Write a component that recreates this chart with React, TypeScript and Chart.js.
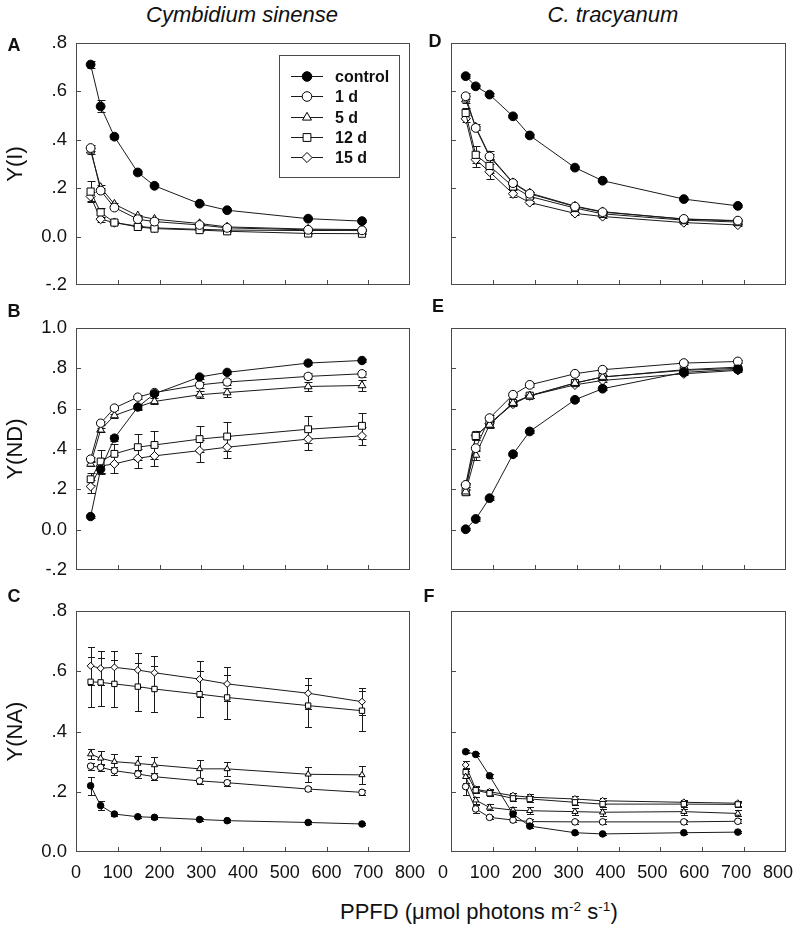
import React, { useEffect, useRef } from 'react';
import { Chart, registerables } from 'chart.js';

Chart.register(...registerables);

const FONT = '"Liberation Sans", Arial, Helvetica, sans-serif';
const INK = '#1a1a1a';

// ---------------- data ----------------
const ppfd = [35, 59, 92, 148, 188, 296, 362, 556, 685];
const seriesLabels = ['control', '1 d', '5 d', '12 d', '15 d'];
const xTickValues = [0, 100, 200, 300, 400, 500, 600, 700, 800];

// A  Cymbidium sinense  Y(I)
const aControl = [0.711, 0.538, 0.413, 0.265, 0.21, 0.136, 0.109, 0.074, 0.064];
const a1d = [0.366, 0.19, 0.12, 0.072, 0.062, 0.048, 0.036, 0.028, 0.026];
const a5d = [0.355, 0.203, 0.134, 0.086, 0.072, 0.054, 0.04, 0.031, 0.029];
const a12d = [0.186, 0.1, 0.058, 0.04, 0.033, 0.027, 0.022, 0.013, 0.012];
const a15d = [0.166, 0.072, 0.058, 0.043, 0.036, 0.03, 0.027, 0.025, 0.026];
const aControlSe = [0.015, 0.025, 0.008, 0.006, 0.005, 0.004, 0.004, 0.003, 0.003];
const a1dSe = [0.012, 0.01, 0.006, 0.004, 0.003, 0.003, 0.003, 0.002, 0.002];
const a5dSe = [0.012, 0.012, 0.006, 0.005, 0.004, 0.003, 0.003, 0.002, 0.002];
const a12dSe = [0.042, 0.02, 0.006, 0.004, 0.003, 0.003, 0.002, 0.002, 0.002];
const a15dSe = [0.02, 0.01, 0.005, 0.004, 0.003, 0.003, 0.002, 0.002, 0.002];

// B  Cymbidium sinense  Y(ND)
const bControl = [0.065, 0.3, 0.454, 0.608, 0.674, 0.757, 0.78, 0.826, 0.839];
const b1d = [0.35, 0.528, 0.603, 0.657, 0.68, 0.718, 0.732, 0.76, 0.773];
const b5d = [0.326, 0.495, 0.566, 0.608, 0.636, 0.669, 0.68, 0.71, 0.715];
const b12d = [0.25, 0.338, 0.376, 0.409, 0.42, 0.449, 0.462, 0.498, 0.515];
const b15d = [0.214, 0.316, 0.326, 0.354, 0.366, 0.392, 0.409, 0.449, 0.465];
const bControlSe = [0.005, 0.02, 0.015, 0.01, 0.008, 0.008, 0.008, 0.007, 0.007];
const b1dSe = [0.01, 0.01, 0.01, 0.01, 0.01, 0.015, 0.015, 0.015, 0.015];
const b5dSe = [0.01, 0.01, 0.01, 0.015, 0.015, 0.018, 0.02, 0.022, 0.025];
const b12dSe = [0.03, 0.055, 0.05, 0.066, 0.07, 0.066, 0.07, 0.067, 0.063];
const b15dSe = [0.03, 0.04, 0.046, 0.046, 0.048, 0.054, 0.055, 0.053, 0.045];

// C  Cymbidium sinense  Y(NA)
const cControl = [0.22, 0.154, 0.126, 0.117, 0.115, 0.108, 0.104, 0.098, 0.093];
const c1d = [0.285, 0.281, 0.27, 0.259, 0.25, 0.236, 0.23, 0.209, 0.198];
const c5d = [0.325, 0.311, 0.3, 0.294, 0.289, 0.276, 0.276, 0.258, 0.256];
const c12d = [0.565, 0.563, 0.558, 0.549, 0.541, 0.524, 0.513, 0.486, 0.469];
const c15d = [0.618, 0.61, 0.613, 0.604, 0.595, 0.574, 0.558, 0.527, 0.499];
const cControlSe = [0.03, 0.015, 0.005, 0.004, 0.004, 0.004, 0.004, 0.004, 0.004];
const c1dSe = [0.012, 0.012, 0.013, 0.012, 0.012, 0.01, 0.01, 0.008, 0.008];
const c5dSe = [0.017, 0.023, 0.026, 0.024, 0.027, 0.029, 0.024, 0.025, 0.029];
const c12dSe = [0.083, 0.08, 0.078, 0.08, 0.076, 0.077, 0.073, 0.07, 0.066];
const c15dSe = [0.062, 0.056, 0.054, 0.056, 0.055, 0.059, 0.057, 0.051, 0.044];

// D  C. tracyanum  Y(I)
const dControl = [0.663, 0.621, 0.587, 0.497, 0.418, 0.285, 0.231, 0.155, 0.127];
const d1d = [0.58, 0.449, 0.331, 0.221, 0.177, 0.124, 0.101, 0.073, 0.066];
const d5d = [0.566, 0.453, 0.335, 0.223, 0.18, 0.126, 0.103, 0.072, 0.065];
const d12d = [0.511, 0.338, 0.292, 0.207, 0.166, 0.118, 0.094, 0.068, 0.06];
const d15d = [0.487, 0.318, 0.268, 0.177, 0.141, 0.096, 0.083, 0.058, 0.048];
const dControlSe = [0.008, 0.006, 0.006, 0.005, 0.005, 0.004, 0.004, 0.004, 0.004];
const d1dSe = [0.012, 0.01, 0.012, 0.008, 0.006, 0.005, 0.004, 0.003, 0.003];
const d5dSe = [0.015, 0.012, 0.02, 0.008, 0.006, 0.005, 0.004, 0.003, 0.003];
const d12dSe = [0.02, 0.035, 0.03, 0.012, 0.008, 0.006, 0.005, 0.004, 0.003];
const d15dSe = [0.015, 0.03, 0.03, 0.015, 0.008, 0.006, 0.005, 0.004, 0.003];

// E  C. tracyanum  Y(ND)
const eControl = [0.002, 0.053, 0.156, 0.374, 0.487, 0.644, 0.699, 0.78, 0.795];
const e1d = [0.222, 0.404, 0.553, 0.669, 0.718, 0.773, 0.793, 0.826, 0.834];
const e5d = [0.189, 0.371, 0.52, 0.628, 0.664, 0.727, 0.757, 0.793, 0.806];
const e12d = [0.186, 0.465, 0.525, 0.628, 0.664, 0.727, 0.757, 0.79, 0.8];
const e15d = [0.222, 0.467, 0.525, 0.623, 0.664, 0.718, 0.74, 0.773, 0.79];
const eControlSe = [0.005, 0.008, 0.01, 0.01, 0.008, 0.008, 0.008, 0.006, 0.006];
const e1dSe = [0.01, 0.015, 0.015, 0.01, 0.01, 0.008, 0.008, 0.008, 0.008];
const e5dSe = [0.01, 0.025, 0.015, 0.01, 0.01, 0.008, 0.008, 0.008, 0.008];
const e12dSe = [0.015, 0.02, 0.015, 0.01, 0.01, 0.008, 0.008, 0.008, 0.008];
const e15dSe = [0.01, 0.02, 0.015, 0.01, 0.01, 0.008, 0.008, 0.008, 0.008];

// F  C. tracyanum  Y(NA)
const fControl = [0.333, 0.324, 0.253, 0.126, 0.086, 0.064, 0.06, 0.064, 0.066];
const f1d = [0.217, 0.143, 0.115, 0.106, 0.101, 0.1, 0.1, 0.1, 0.102];
const f5d = [0.25, 0.172, 0.148, 0.139, 0.137, 0.134, 0.132, 0.134, 0.128];
const f12d = [0.265, 0.205, 0.195, 0.178, 0.176, 0.165, 0.159, 0.159, 0.158];
const f15d = [0.289, 0.208, 0.2, 0.187, 0.182, 0.176, 0.17, 0.165, 0.162];
const fControlSe = [0.004, 0.005, 0.006, 0.006, 0.005, 0.004, 0.004, 0.004, 0.004];
const f1dSe = [0.028, 0.012, 0.005, 0.005, 0.008, 0.006, 0.008, 0.006, 0.006];
const f5dSe = [0.02, 0.012, 0.01, 0.01, 0.012, 0.012, 0.012, 0.01, 0.01];
const f12dSe = [0.015, 0.01, 0.01, 0.01, 0.01, 0.01, 0.01, 0.01, 0.008];
const f15dSe = [0.012, 0.01, 0.01, 0.01, 0.01, 0.01, 0.01, 0.008, 0.008];

// ---------------- styling ----------------
const pointStyles = ['circle', 'circle', 'triangle', 'rect', 'rectRot'];
const pointFills = ['#000000', '#ffffff', '#ffffff', '#ffffff', '#ffffff'];
const radiusMult = [1.0, 1.0, 1.08, 1.15, 1.05];

type PanelDef = {
  key: string;
  series: number[][];
  errors: number[][];
  ymin: number;
  ymax: number;
  ytitle?: string;
  showY: boolean;
  showX: boolean;
  xLabelOffset: number;
  r: number;
  legend?: boolean;
  left: number;
  top: number;
  w: number;
  h: number;
  yAxisW: number;
  xAxisH: number;
  padTop: number;
  padRight: number;
};

function fmtY(v: number) {
  const r = Math.round(v * 10) / 10;
  if (r === 0) return '0.0';
  if (Math.abs(r) >= 1) return r.toFixed(1);
  return (r < 0 ? '-' : '') + Math.abs(r).toFixed(1).slice(1);
}

function drawMarker(ctx: CanvasRenderingContext2D, style: string, x: number, y: number, r: number, fill: string) {
  ctx.beginPath();
  if (style === 'circle') {
    ctx.arc(x, y, r, 0, Math.PI * 2);
  } else if (style === 'triangle') {
    const a = (2 * Math.PI) / 3;
    ctx.moveTo(x, y - r);
    ctx.lineTo(x + Math.sin(a) * r, y - Math.cos(a) * r);
    ctx.lineTo(x + Math.sin(2 * a) * r, y - Math.cos(2 * a) * r);
    ctx.closePath();
  } else if (style === 'rect') {
    const s = r * Math.SQRT1_2;
    ctx.rect(x - s, y - s, 2 * s, 2 * s);
  } else {
    ctx.moveTo(x, y - r);
    ctx.lineTo(x + r, y);
    ctx.lineTo(x, y + r);
    ctx.lineTo(x - r, y);
    ctx.closePath();
  }
  ctx.fillStyle = fill;
  ctx.fill();
  ctx.strokeStyle = '#000';
  ctx.lineWidth = 1;
  ctx.stroke();
}

function makePlugin(def: PanelDef) {
  return {
    id: 'frame_' + def.key,
    beforeDatasetsDraw(chart: any) {
      const ctx: CanvasRenderingContext2D = chart.ctx;
      const ys = chart.scales.y;
      const cap = def.r < 4 ? 3.5 : 4;
      ctx.save();
      ctx.strokeStyle = INK;
      ctx.lineWidth = 1;
      chart.data.datasets.forEach((ds: any, i: number) => {
        const meta = chart.getDatasetMeta(i);
        const errs: number[] = ds.errors || [];
        meta.data.forEach((pt: any, j: number) => {
          const e = errs[j];
          if (!e) return;
          const v = ds.data[j].y;
          const x = Math.round(pt.x) + 0.5;
          const yT = Math.round(ys.getPixelForValue(v + e)) + 0.5;
          const yB = Math.round(ys.getPixelForValue(v - e)) + 0.5;
          ctx.beginPath();
          ctx.moveTo(x, yT);
          ctx.lineTo(x, yB);
          ctx.moveTo(x - cap, yT);
          ctx.lineTo(x + cap, yT);
          ctx.moveTo(x - cap, yB);
          ctx.lineTo(x + cap, yB);
          ctx.stroke();
        });
      });
      ctx.restore();
    },
    afterDatasetsDraw(chart: any) {
      const ctx: CanvasRenderingContext2D = chart.ctx;
      const ca = chart.chartArea;
      const xs = chart.scales.x;
      const ys = chart.scales.y;
      ctx.save();
      ctx.strokeStyle = '#4a4a4a';
      ctx.lineWidth = 1;
      ctx.strokeRect(ca.left + 0.5, ca.top + 0.5, ca.right - ca.left - 1, ca.bottom - ca.top - 1);
      ctx.beginPath();
      xs.ticks.forEach((t: any) => {
        if (t.value <= xs.min || t.value >= xs.max) return;
        const px = Math.round(xs.getPixelForValue(t.value)) + 0.5;
        ctx.moveTo(px, ca.bottom);
        ctx.lineTo(px, ca.bottom - 5);
      });
      ys.ticks.forEach((t: any) => {
        if (t.value <= ys.min + 1e-9 || t.value >= ys.max - 1e-9) return;
        const py = Math.round(ys.getPixelForValue(t.value)) + 0.5;
        ctx.moveTo(ca.left, py);
        ctx.lineTo(ca.left + 5, py);
      });
      ctx.stroke();

      if (def.legend) {
        const L = ca.right - 131;
        const T = ca.top + 12;
        ctx.strokeStyle = '#4a4a4a';
        ctx.strokeRect(L + 0.5, T + 0.5, 120, 122);
        ctx.font = 'bold 16px ' + FONT;
        ctx.textBaseline = 'middle';
        ctx.textAlign = 'left';
        seriesLabels.forEach((lab, i) => {
          const y = Math.round(T + 21 + i * 20.25) + 0.5;
          ctx.beginPath();
          ctx.strokeStyle = INK;
          ctx.moveTo(L + 12, y);
          ctx.lineTo(L + 44, y);
          ctx.stroke();
          drawMarker(ctx, pointStyles[i], L + 28, y, 4.8 * radiusMult[i], pointFills[i]);
          ctx.fillStyle = '#111';
          ctx.fillText(lab, L + 56, y + 1);
        });
      }
      ctx.restore();
    },
  };
}

function buildConfig(def: PanelDef): any {
  const datasets = def.series.map((ys, i) => ({
    label: seriesLabels[i],
    data: ppfd.map((x, j) => ({ x, y: ys[j] })),
    errors: def.errors[i],
    showLine: true,
    borderColor: INK,
    borderWidth: 1,
    pointStyle: pointStyles[i],
    pointRadius: def.r * radiusMult[i],
    pointBackgroundColor: pointFills[i],
    pointBorderColor: '#000',
    pointBorderWidth: 1,
    tension: 0,
    fill: false,
  }));
  return {
    type: 'scatter',
    data: { datasets },
    plugins: [makePlugin(def)],
    options: {
      responsive: false,
      animation: false,
      devicePixelRatio: 1,
      events: [],
      layout: { padding: { top: def.padTop, right: def.padRight, bottom: 0, left: 0 } },
      plugins: { legend: { display: false }, tooltip: { enabled: false }, title: { display: false } },
      scales: {
        x: {
          type: 'linear',
          min: xTickValues[0],
          max: xTickValues[xTickValues.length - 1],
          afterBuildTicks: (s: any) => {
            s.ticks = xTickValues.map((v) => ({ value: v }));
          },
          ticks: {
            display: def.showX,
            autoSkip: false,
            maxRotation: 0,
            minRotation: 0,
            padding: 10,
            labelOffset: def.xLabelOffset,
            color: '#111',
            font: { family: FONT, size: 18 },
            callback: (v: any) => String(v),
          },
          grid: { display: false, drawTicks: false },
          border: { display: false },
          afterFit: (s: any) => {
            s.height = def.xAxisH;
            s.paddingLeft = 0;
            s.paddingRight = 0;
          },
        },
        y: {
          type: 'linear',
          min: def.ymin,
          max: def.ymax,
          ticks: {
            stepSize: 0.2,
            display: def.showY,
            padding: 9,
            color: '#111',
            font: { family: FONT, size: 18.5 },
            callback: (v: any) => fmtY(Number(v)),
          },
          grid: { display: false, drawTicks: false },
          border: { display: false },
          title: def.ytitle
            ? { display: true, text: def.ytitle, color: '#111', font: { family: FONT, size: 22 }, padding: { top: 3, bottom: 0 } }
            : { display: false },
          afterFit: (s: any) => {
            s.width = def.yAxisW;
            s.paddingTop = 0;
            s.paddingBottom = 0;
          },
        },
      },
    },
  };
}

// ---------------- panels ----------------
const LEFT = { left: 0, yAxisW: 76 };
const RIGHT = { left: 420, yAxisW: 31 };

const panels: PanelDef[] = [
  {
    key: 'A', series: [aControl, a1d, a5d, a12d, a15d], errors: [aControlSe, a1dSe, a5dSe, a12dSe, a15dSe],
    ymin: -0.2, ymax: 0.8, ytitle: 'Y(I)', showY: true, showX: false, xLabelOffset: 0, r: 4.4, legend: true,
    ...LEFT, top: 30, w: 420, h: 265, xAxisH: 10, padTop: 13, padRight: 10,
  },
  {
    key: 'B', series: [bControl, b1d, b5d, b12d, b15d], errors: [bControlSe, b1dSe, b5dSe, b12dSe, b15dSe],
    ymin: -0.2, ymax: 1.0, ytitle: 'Y(ND)', showY: true, showX: false, xLabelOffset: 0, r: 4.2,
    ...LEFT, top: 315, w: 420, h: 265, xAxisH: 10, padTop: 13, padRight: 10,
  },
  {
    key: 'C', series: [cControl, c1d, c5d, c12d, c15d], errors: [cControlSe, c1dSe, c5dSe, c12dSe, c15dSe],
    ymin: 0, ymax: 0.8, ytitle: 'Y(NA)', showY: true, showX: true, xLabelOffset: 0, r: 3.3,
    ...LEFT, top: 598, w: 440, h: 300, xAxisH: 46, padTop: 13, padRight: 30,
  },
  {
    key: 'D', series: [dControl, d1d, d5d, d12d, d15d], errors: [dControlSe, d1dSe, d5dSe, d12dSe, d15dSe],
    ymin: -0.2, ymax: 0.8, showY: false, showX: false, xLabelOffset: 0, r: 4.4,
    ...RIGHT, top: 30, w: 376, h: 265, xAxisH: 10, padTop: 13, padRight: 10,
  },
  {
    key: 'E', series: [eControl, e1d, e5d, e12d, e15d], errors: [eControlSe, e1dSe, e5dSe, e12dSe, e15dSe],
    ymin: -0.2, ymax: 1.0, showY: false, showX: false, xLabelOffset: 0, r: 4.4,
    ...RIGHT, top: 315, w: 376, h: 265, xAxisH: 10, padTop: 13, padRight: 10,
  },
  {
    key: 'F', series: [fControl, f1d, f5d, f12d, f15d], errors: [fControlSe, f1dSe, f5dSe, f12dSe, f15dSe],
    ymin: 0, ymax: 0.8, showY: false, showX: true, xLabelOffset: -8, r: 3.3,
    ...RIGHT, top: 598, w: 376, h: 300, xAxisH: 46, padTop: 13, padRight: 10,
  },
];

function Panel({ def }: { def: PanelDef }) {
  const ref = useRef<HTMLCanvasElement>(null);
  useEffect(() => {
    if (!ref.current) return;
    const chart = new Chart(ref.current, buildConfig(def));
    return () => chart.destroy();
  }, [def]);
  return (
    <canvas
      ref={ref}
      width={def.w}
      height={def.h}
      style={{ position: 'absolute', left: def.left, top: def.top, width: def.w, height: def.h }}
    />
  );
}

const letterStyle = (x: number, y: number): React.CSSProperties => ({
  position: 'absolute', left: x, top: y, transform: 'translate(-50%, -50%)',
  fontSize: 18, fontWeight: 'bold', lineHeight: 1, color: '#111',
});

const letters: [string, number, number][] = [
  ['A', 14, 45], ['B', 14, 311], ['C', 14, 596],
  ['D', 435, 41], ['E', 438, 306], ['F', 429, 596],
];

const supStyle: React.CSSProperties = { fontSize: '0.62em', verticalAlign: 'baseline', position: 'relative', top: '-0.6em' };

export default function App() {
  return (
    <div style={{ position: 'absolute', left: 0, top: 0, width: 796, height: 931, background: '#fff', fontFamily: FONT, color: '#111', overflow: 'hidden' }}>
      {panels.map((p) => (
        <Panel key={p.key} def={p} />
      ))}
      <div style={{ position: 'absolute', left: 242, top: 15, transform: 'translate(-50%, -50%)', fontSize: 22, fontStyle: 'italic', lineHeight: 1, whiteSpace: 'nowrap' }}>
        Cymbidium sinense
      </div>
      <div style={{ position: 'absolute', left: 613, top: 15, transform: 'translate(-50%, -50%)', fontSize: 22, fontStyle: 'italic', lineHeight: 1, whiteSpace: 'nowrap' }}>
        C. tracyanum
      </div>
      {letters.map(([t, x, y]) => (
        <div key={t} style={letterStyle(x, y)}>{t}</div>
      ))}
      <div style={{ position: 'absolute', left: 340, top: 912, transform: 'translateY(-50%)', fontSize: 22, lineHeight: 1, whiteSpace: 'nowrap' }}>
        PPFD (μmol photons m<sup style={supStyle}>-2</sup> s<sup style={supStyle}>-1</sup>)
      </div>
    </div>
  );
}
